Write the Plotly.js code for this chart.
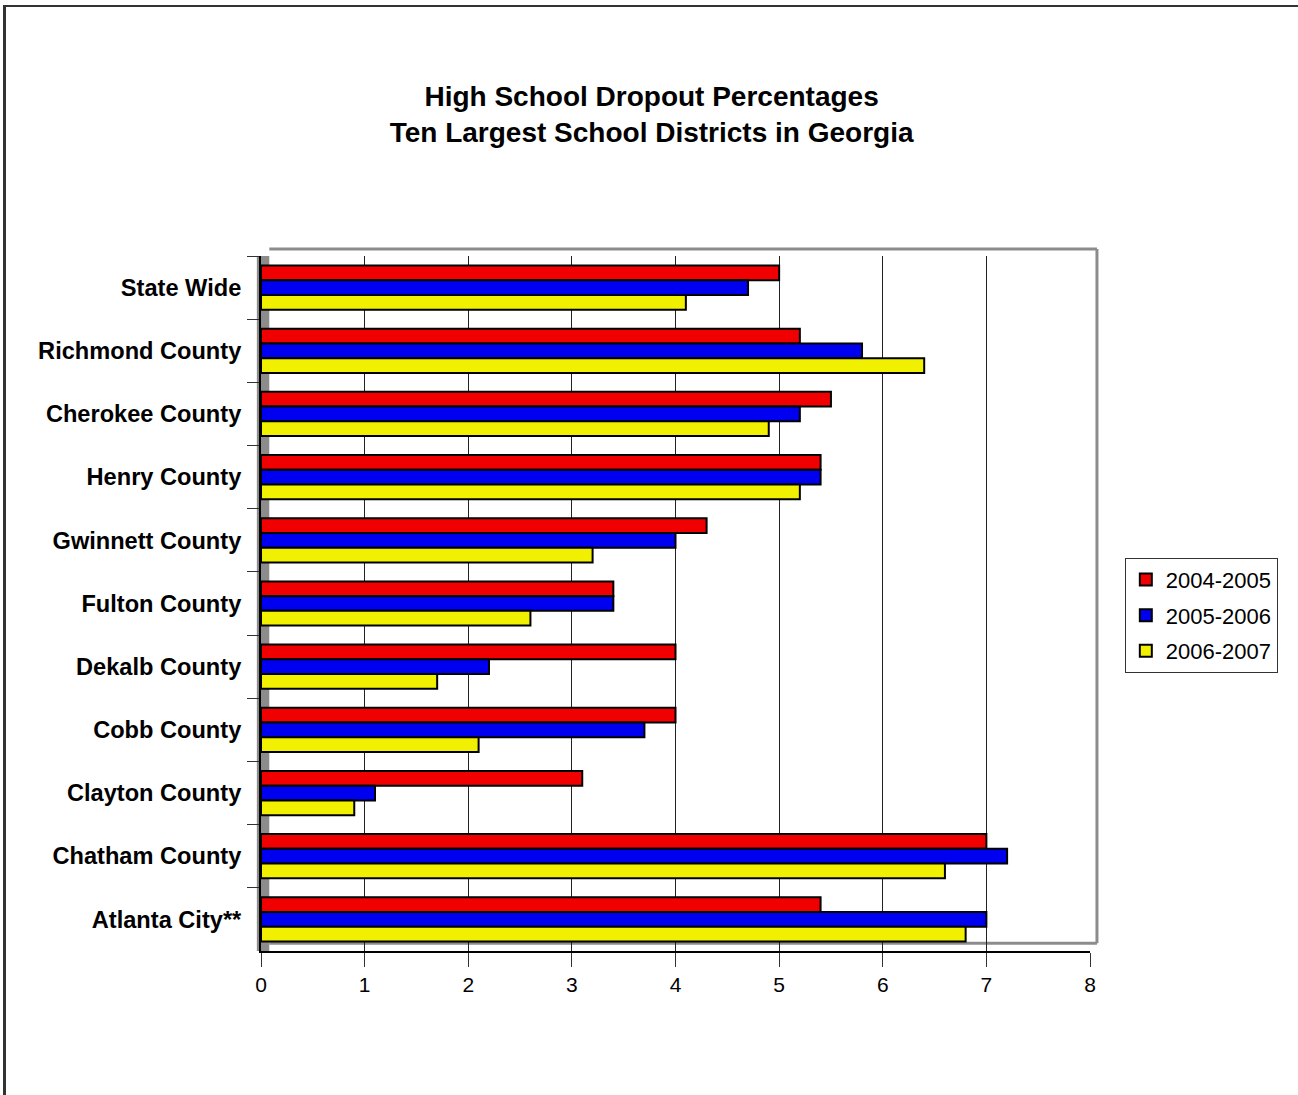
<!DOCTYPE html>
<html>
<head>
<meta charset="utf-8">
<script src="https://cdn.plot.ly/plotly-3.0.1.min.js"></script>
<style>
  html, body { margin: 0; padding: 0; background: #fff; }
  #wrap { position: relative; width: 1298px; height: 1095px; overflow: hidden; }
  #chart { position: absolute; left: 0; top: 0; width: 1298px; height: 1095px; }
  #frame { position: absolute; left: 3px; top: 5px; width: 1400px; height: 1200px;
           border-left: 3px solid #333; border-top: 2px solid #333; pointer-events: none; }
</style>
</head>
<body>
<div id="wrap">
  <div id="chart"></div>
  <div id="frame"></div>
</div>
<script>
const categories = ['State Wide', 'Richmond County', 'Cherokee County', 'Henry County',
  'Gwinnett County', 'Fulton County', 'Dekalb County', 'Cobb County',
  'Clayton County', 'Chatham County', 'Atlanta City**'];
const seriesNames = ['2004-2005', '2005-2006', '2006-2007'];
const v2004_2005 = [5.0, 5.2, 5.5, 5.4, 4.3, 3.4, 4.0, 4.0, 3.1, 7.0, 5.4];
const v2005_2006 = [4.7, 5.8, 5.2, 5.4, 4.0, 3.4, 2.2, 3.7, 1.1, 7.2, 7.0];
const v2006_2007 = [4.1, 6.4, 4.9, 5.2, 3.2, 2.6, 1.7, 2.1, 0.9, 6.6, 6.8];
const xTickVals = [0, 1, 2, 3, 4, 5, 6, 7, 8];

const colors = ['#f00000', '#0000f0', '#f0f000'];
const values = [v2004_2005, v2005_2006, v2006_2007];

const FONT = 'Liberation Sans, Arial, sans-serif';

const traces = values.map((v, i) => ({
  type: 'bar',
  orientation: 'h',
  name: seriesNames[i],
  legendgroup: 'g' + i,
  y: categories,
  x: v,
  marker: { color: colors[i], line: { color: '#000', width: 2 } },
  hoverinfo: 'x+y+name'
}));

const layout = {
  width: 1298,
  height: 1095,
  paper_bgcolor: '#fff',
  plot_bgcolor: '#fff',
  margin: { l: 261, r: 208, t: 256, b: 144 },
  barmode: 'group',
  bargap: 0.3,
  bargroupgap: 0,
  font: { family: FONT, color: '#000' },
  title: {
    text: '<b>High School Dropout Percentages<br>Ten Largest School Districts in Georgia</b>',
    font: { family: FONT, size: 28, color: '#000' },
    x: 0.502, xref: 'container', xanchor: 'center',
    y: 1 - 106 / 1095, yref: 'container', yanchor: 'top'
  },
  xaxis: {
    range: [0, 8],
    tickvals: xTickVals,
    ticktext: xTickVals.map(String),
    showgrid: true,
    gridcolor: '#222',
    gridwidth: 1,
    zeroline: false,
    showline: true,
    linecolor: '#000',
    linewidth: 2,
    ticks: 'outside',
    ticklen: 14,
    tickcolor: '#333',
    tickwidth: 1,
    ticklabelstandoff: 0,
    tickfont: { family: FONT, size: 21, color: '#000' },
    fixedrange: true
  },
  yaxis: {
    type: 'category',
    autorange: 'reversed',
    showgrid: false,
    showline: true,
    linecolor: '#000',
    linewidth: 2,
    ticks: 'outside',
    tickson: 'boundaries',
    ticklen: 12,
    tickcolor: '#333',
    tickwidth: 1,
    ticklabelstandoff: 13,
    tickfont: { family: FONT, size: 23.6, color: '#000', weight: 'bold' },
    fixedrange: true
  },
  legend: {
    x: 1.042, xanchor: 'left',
    y: 0.483, yanchor: 'middle',
    bgcolor: '#fff',
    bordercolor: '#333',
    borderwidth: 1,
    font: { family: FONT, size: 22, color: '#000' },
    traceorder: 'grouped',
    itemwidth: 30,
    tracegroupgap: 4
  },
  shapes: [
    { type: 'rect', xref: 'paper', yref: 'paper', x0: -0.005, x1: 0.010, y0: 0.0, y1: 1.0,
      fillcolor: '#8c8c8c', line: { width: 0 }, layer: 'below' },
    { type: 'line', xref: 'paper', yref: 'paper', x0: 0.010, x1: 1.0084, y0: 1.0101, y1: 1.0101,
      line: { color: '#8c8c8c', width: 3 } },
    { type: 'line', xref: 'paper', yref: 'paper', x0: 1.0084, x1: 1.0084, y0: 0.011, y1: 1.0101,
      line: { color: '#8c8c8c', width: 3 } },
    { type: 'line', xref: 'paper', yref: 'paper', x0: 0.010, x1: 1.0084, y0: 0.011, y1: 0.011,
      line: { color: '#8c8c8c', width: 3 }, layer: 'below' }
  ],
  showlegend: true
};

Plotly.newPlot('chart', traces, layout, { displayModeBar: false, staticPlot: true });
</script>
</body>
</html>
